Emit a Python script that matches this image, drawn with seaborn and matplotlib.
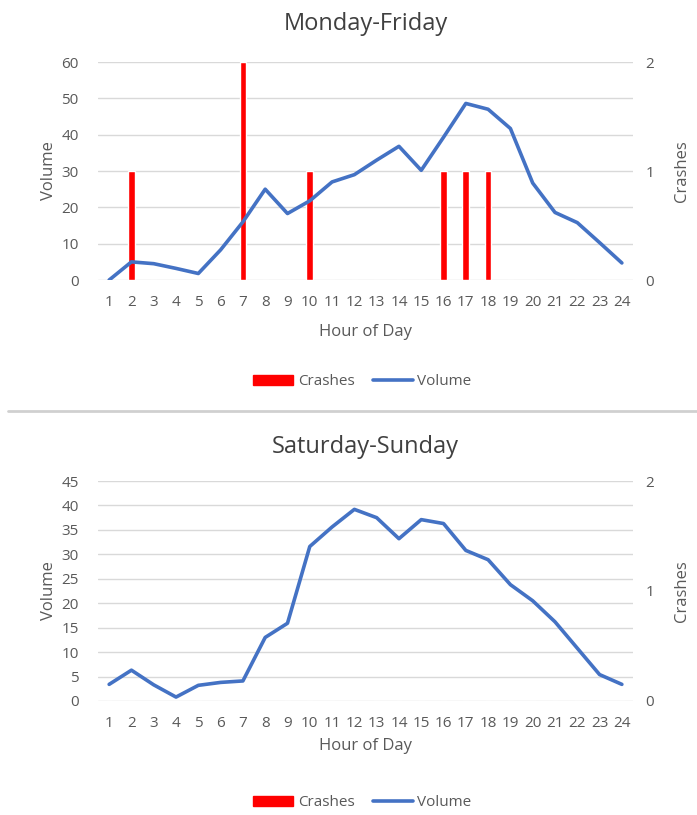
import numpy as np
import pandas as pd
import seaborn as sns
from matplotlib import pyplot as plt
from matplotlib.patches import Patch
from matplotlib.lines import Line2D

hours = list(range(1, 25))

# weekday volume / crashes
wd_volume = [0, 5, 4.5, 3.2, 1.8, 8.3, 16, 25, 18.3, 21.8, 27, 29, 33, 36.8, 30.2, 39.3,
             48.6, 47, 41.7, 26.7, 18.6, 15.8, 10.3, 4.7]
wd_crashes = [0, 1, 0, 0, 0, 0, 2, 0, 0, 1, 0, 0, 0, 0, 0, 1, 1, 1, 0, 0, 0, 0, 0, 0]

# weekend volume / crashes
we_volume = [3.4, 6.3, 3.3, 0.8, 3.2, 3.8, 4.1, 13, 15.9, 31.6, 35.6, 39.2, 37.5, 33.2, 37.1, 36.3,
             30.8, 28.9, 23.8, 20.5, 16.2, 10.8, 5.4, 3.4]
we_crashes = [0] * 24

sns.set_style('white')
plt.rcParams['font.family'] = ['Open Sans', 'DejaVu Sans']

gray = '#595959'
red = '#FF0000'
blue = '#4472C4'
grid = '#D9D9D9'

fig = plt.figure(figsize=(6.97, 8.15), dpi=100)


def draw(rect, title, volume, crashes, vmax, vstep, legend_y, title_pad, xlabel_pad):
    df = pd.DataFrame({'hour': hours, 'volume': volume, 'crashes': crashes})
    ax = fig.add_axes(rect)
    ax2 = ax.twinx()
    # volume line on top of crash bars
    ax.set_zorder(ax2.get_zorder() + 1)
    ax.patch.set_visible(False)

    sns.barplot(data=df, x='hour', y='crashes', ax=ax2, native_scale=True,
                color=red, width=0.3, saturation=1, errorbar=None)
    sns.lineplot(data=df, x='hour', y='volume', ax=ax, color=blue, linewidth=2.6)

    ax.set_xlim(0.5, 24.5)
    ax.set_ylim(0, vmax)
    ax2.set_ylim(0, 2)
    ax.set_yticks(np.arange(0, vmax + 0.1, vstep))
    ax2.set_yticks([0, 1, 2])
    ax.set_xticks(hours)
    ax.set_xticklabels([str(h) for h in hours])

    for t in ax.get_yticks():
        ax2.axhline(t * 2 / vmax, color=grid, linewidth=1, zorder=0)

    for a in (ax, ax2):
        for s in a.spines.values():
            s.set_visible(False)
        a.tick_params(length=0, colors=gray, labelsize=11)

    ax.tick_params(axis='x', pad=11)
    ax.tick_params(axis='y', pad=14)
    ax2.tick_params(axis='y', pad=9)
    ax.set_xlabel('Hour of Day', color=gray, fontsize=12, labelpad=xlabel_pad)
    ax.set_ylabel('Volume', color=gray, fontsize=12, labelpad=3)
    ax2.set_ylabel('Crashes', color=gray, fontsize=12, labelpad=14)
    ax2.set_xlabel('')
    ax.set_title(title, color='#404040', fontsize=17, pad=title_pad)

    handles = [Patch(color=red, label='Crashes'),
               Line2D([0], [0], color=blue, linewidth=2.6, label='Volume')]
    fig.legend(handles=handles, loc='center', bbox_to_anchor=(0.52, legend_y), ncol=2,
               frameon=False, fontsize=11, labelcolor=gray, handlelength=2.6,
               handleheight=0.6, columnspacing=1.2, handletextpad=0.3)


draw([0.1406, 0.6564, 0.7676, 0.2675], 'Monday-Friday', wd_volume, wd_crashes, 60, 10,
     1 - 382 / 815, 23, 10)
draw([0.1406, 0.1399, 0.7676, 0.2699], 'Saturday-Sunday', we_volume, we_crashes, 45, 5,
     1 - 803 / 815, 20, 5)

# separator between the two charts
fig.add_artist(Line2D([8 / 697, 1], [1 - 411 / 815] * 2, color='#D0D0D0', linewidth=2))

fig.savefig('out.png', dpi=100)
